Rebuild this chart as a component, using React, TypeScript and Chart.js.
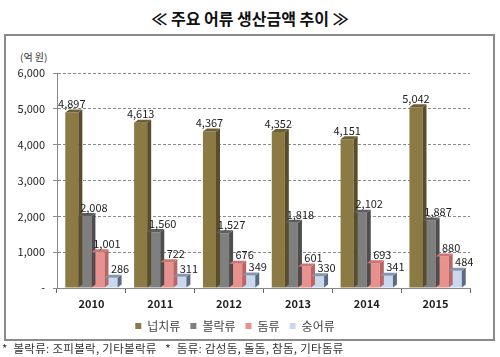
import React, { useEffect, useRef } from "react";
import { Chart, registerables } from "chart.js";

Chart.register(...registerables);

const years = ["2010", "2011", "2012", "2013", "2014", "2015"];
const flatfish = [4897, 4613, 4367, 4352, 4151, 5042]; // 넙치류
const rockfish = [2008, 1560, 1527, 1818, 2102, 1887]; // 볼락류
const seabream = [1001, 722, 676, 601, 693, 880]; // 돔류
const mullet = [286, 311, 349, 330, 341, 484]; // 숭어류
const seriesNames = ["넙치류", "볼락류", "돔류", "숭어류"];
const yTickLabels = ["-", "1,000", "2,000", "3,000", "4,000", "5,000", "6,000"];

const FONT = "'Noto Sans CJK KR', 'Noto Sans', sans-serif";

const faceColors = ["#8c7a45", "#7f7f7f", "#e8918f", "#c9d8ef"];
const sideColors = ["#5a4e2a", "#4d4d4d", "#b86664", "#5c6a80"];
const topColors = ["#6e6035", "#5e5e5e", "#c97674", "#8796ad"];

const bar3d = {
  id: "bar3d",
  afterDatasetsDraw(chart: any) {
    const ctx = chart.ctx;
    const dx = 4, dy = 3;
    ctx.save();
    chart.data.datasets.forEach((ds: any, di: number) => {
      const meta = chart.getDatasetMeta(di);
      meta.data.forEach((el: any) => {
        const { x, y, base, width } = el.getProps(["x", "y", "base", "width"], true);
        const l = x - width / 2, r = x + width / 2;
        ctx.fillStyle = sideColors[di];
        ctx.beginPath();
        ctx.moveTo(r, y);
        ctx.lineTo(r + dx, y - dy);
        ctx.lineTo(r + dx, base - dy);
        ctx.lineTo(r, base);
        ctx.closePath();
        ctx.fill();
        ctx.fillStyle = topColors[di];
        ctx.beginPath();
        ctx.moveTo(l, y);
        ctx.lineTo(l + dx, y - dy);
        ctx.lineTo(r + dx, y - dy);
        ctx.lineTo(r, y);
        ctx.closePath();
        ctx.fill();
      });
    });
    ctx.restore();
  },
};

const valueLabels = {
  id: "valueLabels",
  afterDatasetsDraw(chart: any) {
    const ctx = chart.ctx;
    ctx.save();
    ctx.font = `11px ${FONT}`;
    ctx.fillStyle = "#222";
    ctx.textAlign = "center";
    ctx.textBaseline = "bottom";
    chart.data.datasets.forEach((ds: any, di: number) => {
      const meta = chart.getDatasetMeta(di);
      meta.data.forEach((el: any, i: number) => {
        const v = ds.data[i];
        const off = di === 0 ? 0 : 9;
        ctx.fillText(v.toLocaleString("en-US"), el.x + off, el.y - 3);
      });
    });
    ctx.restore();
  },
};

export default function App() {
  const ref = useRef<HTMLCanvasElement>(null);
  useEffect(() => {
    document.body.style.margin = "0";
    const chart = new Chart(ref.current!, {
      type: "bar",
      data: {
        labels: years,
        datasets: [flatfish, rockfish, seabream, mullet].map((d, i) => ({
          label: seriesNames[i],
          data: d,
          backgroundColor: faceColors[i],
          categoryPercentage: 0.76,
          barPercentage: 1,
        })),
      },
      options: {
        animation: false,
        responsive: false,
        maintainAspectRatio: false,
        layout: { padding: { top: 73, right: 30, bottom: 15, left: 0 } },
        plugins: {
          title: { display: false },
          tooltip: { enabled: false },
          legend: {
            position: "bottom",
            labels: {
              boxWidth: 6,
              boxHeight: 6,
              padding: 10,
              color: "#444",
              font: { family: FONT, size: 12 },
            },
          },
        },
        scales: {
          x: {
            grid: { display: true, drawOnChartArea: false, tickLength: 5, color: "#666" },
            border: { color: "#888" },
            ticks: { color: "#222", font: { family: FONT, size: 11, weight: "bold" }, padding: 4 },
            afterFit: (s: any) => { s.height = 22; },
          },
          y: {
            min: 0,
            max: 6000,
            grid: { color: "#8a8a8a", tickLength: 4 },
            border: { color: "#888", dash: [3, 2] },
            ticks: {
              stepSize: 1000,
              color: "#222",
              padding: 8,
              font: { family: FONT, size: 11 },
              callback: (_v: any, idx: number) => yTickLabels[idx],
            },
            afterFit: (s: any) => { s.width = 57; },
          },
        },
      },
      plugins: [bar3d, valueLabels],
    } as any);
    return () => chart.destroy();
  }, []);

  return (
    <div style={{ position: "relative", width: 500, height: 357, background: "#fff", overflow: "hidden", fontFamily: FONT }}>
      <div style={{ position: "absolute", left: 0, top: 6, width: 500, textAlign: "center", fontSize: 16, fontWeight: "bold", color: "#111" }}>
        ≪ 주요 어류 생산금액 추이 ≫
      </div>
      <div style={{ position: "absolute", left: 4, top: 34, width: 487, height: 303, border: "2px solid #8a8a8a" }} />
      <div style={{ position: "absolute", left: 20, top: 49, fontSize: 10, color: "#333" }}>(억 원)</div>
      <canvas ref={ref} width={500} height={357} style={{ position: "absolute", left: 0, top: 0 }} />
      <div style={{ position: "absolute", left: 2, top: 340, fontSize: 11.5, color: "#333", whiteSpace: "pre", letterSpacing: 0.3 }}>
        {"*  볼락류: 조피볼락, 기타볼락류   *  돔류: 감성돔, 돌돔, 참돔, 기타돔류"}
      </div>
    </div>
  );
}
